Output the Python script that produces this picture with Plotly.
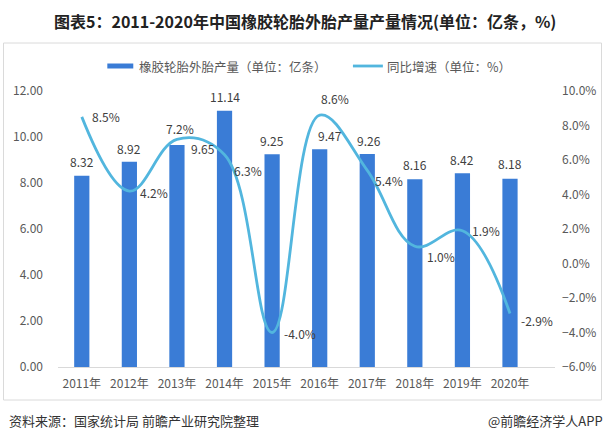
import plotly.graph_objects as go

# ---- data ----
years = ["2011年", "2012年", "2013年", "2014年", "2015年", "2016年", "2017年", "2018年", "2019年", "2020年"]
output = [8.32, 8.92, 9.65, 11.14, 9.25, 9.47, 9.26, 8.16, 8.42, 8.18]
growth = [8.5, 4.2, 7.2, 6.3, -4.0, 8.6, 5.4, 1.0, 1.9, -2.9]

bar_name = "橡胶轮胎外胎产量（单位：亿条）"
line_name = "同比增速（单位：%）"
title_text = "图表5：2011-2020年中国橡胶轮胎外胎产量产量情况(单位：亿条，%)"
source_text = "资料来源：国家统计局 前瞻产业研究院整理"
brand_text = "@前瞻经济学人APP"

# label offsets in pixels (dx right, dy down)
bar_lab_off = [(0, -14), (0, -13), (26, 3), (0, -14), (0, -14), (10, -14), (2, -14), (0, -15), (0, -14), (0, -15)]
line_lab_off = [(24, 0), (25, 1), (3, -11), (23, 16), (28, 1), (15, -17), (22, 10), (26, 10), (24, 0), (27, 7)]

W, H = 609, 441
L, R, T, B = 57.6, 555.4, 91, 367
FONT = "Noto Sans CJK SC, Noto Sans, sans-serif"
BAR_C = "#3A7CD6"
LINE_C = "#52B6DE"
TXT = "#404040"
AX_TXT = "#595959"


def px(x):
    return (x - L) / (R - L)


def py(y):
    return (B - y) / (B - T)


fig = go.Figure()
fig.add_trace(go.Bar(x=years, y=output, name=bar_name, marker_color=BAR_C,
                     marker_line_width=0, yaxis="y", showlegend=False))
fig.add_trace(go.Scatter(x=years, y=growth, name=line_name, mode="lines",
                         line=dict(color=LINE_C, width=2.8, shape="spline", smoothing=1.1),
                         yaxis="y2", showlegend=False))

ann = []
for i, (c, v) in enumerate(zip(years, output)):
    dx, dy = bar_lab_off[i]
    ann.append(dict(x=c, y=v, xref="x", yref="y", text=f"{v:.2f}", showarrow=False,
                    xshift=dx, yshift=-dy, font=dict(size=12, color=TXT, family=FONT)))
for i, (c, v) in enumerate(zip(years, growth)):
    dx, dy = line_lab_off[i]
    ann.append(dict(x=c, y=v, xref="x", yref="y2", text=f"{v:.1f}%", showarrow=False,
                    xshift=dx, yshift=-dy, font=dict(size=12, color=TXT, family=FONT)))

# title
ann.append(dict(x=px(304.5), y=py(21), xref="paper", yref="paper", text=f"<b>{title_text}</b>",
                showarrow=False, xanchor="center", yanchor="middle",
                font=dict(size=16, color="#222222", family=FONT)))
# legend (drawn)
ann.append(dict(x=px(137), y=py(66), xref="paper", yref="paper", text=bar_name, showarrow=False,
                xanchor="left", yanchor="middle", font=dict(size=12.5, color=AX_TXT, family=FONT)))
ann.append(dict(x=px(385), y=py(66), xref="paper", yref="paper", text=line_name, showarrow=False,
                xanchor="left", yanchor="middle", font=dict(size=12.5, color=AX_TXT, family=FONT)))
# footer
ann.append(dict(x=px(7), y=py(420), xref="paper", yref="paper", text=source_text, showarrow=False,
                xanchor="left", yanchor="middle", font=dict(size=13, color="#333333", family=FONT)))
ann.append(dict(x=px(605), y=py(420), xref="paper", yref="paper", text=brand_text, showarrow=False,
                xanchor="right", yanchor="middle", font=dict(size=13, color="#333333", family=FONT)))

shapes = [
    dict(type="rect", xref="paper", yref="paper", x0=px(3), x1=px(602), y0=py(400), y1=py(43),
         line=dict(color="#DADADA", width=1), fillcolor="rgba(0,0,0,0)", layer="below"),
    dict(type="rect", xref="paper", yref="paper", x0=px(107), x1=px(133), y0=py(68.5), y1=py(63.5),
         line=dict(width=0), fillcolor=BAR_C),
    dict(type="line", xref="paper", yref="paper", x0=px(353), x1=px(383), y0=py(66), y1=py(66),
         line=dict(color=LINE_C, width=2.8)),
]

fig.update_layout(
    width=W, height=H,
    margin=dict(l=L, r=W - R, t=T, b=H - B, pad=0),
    paper_bgcolor="white", plot_bgcolor="white",
    bargap=0.68,
    showlegend=False,
    hovermode=False,
    font=dict(family=FONT),
    xaxis=dict(type="category", showline=True, linecolor="#D9D9D9", linewidth=1,
               ticks="", showgrid=False, tickfont=dict(size=12, color=AX_TXT, family=FONT),
               ticklabelstandoff=6),
    yaxis=dict(range=[0, 12], dtick=2, tickformat=".2f", showgrid=False, zeroline=False,
               showline=False, ticks="", tickfont=dict(size=12, color=AX_TXT, family=FONT),
               ticklabelstandoff=14),
    yaxis2=dict(range=[-6, 10], dtick=2, tickformat=".1f", ticksuffix="%", overlaying="y",
                side="right", showgrid=False, zeroline=False, showline=False, ticks="",
                tickfont=dict(size=12, color=AX_TXT, family=FONT), ticklabelstandoff=6),
    annotations=ann,
    shapes=shapes,
)

fig.write_html("out.html", config={"displayModeBar": False},
               post_script="document.body.style.margin='0';")
